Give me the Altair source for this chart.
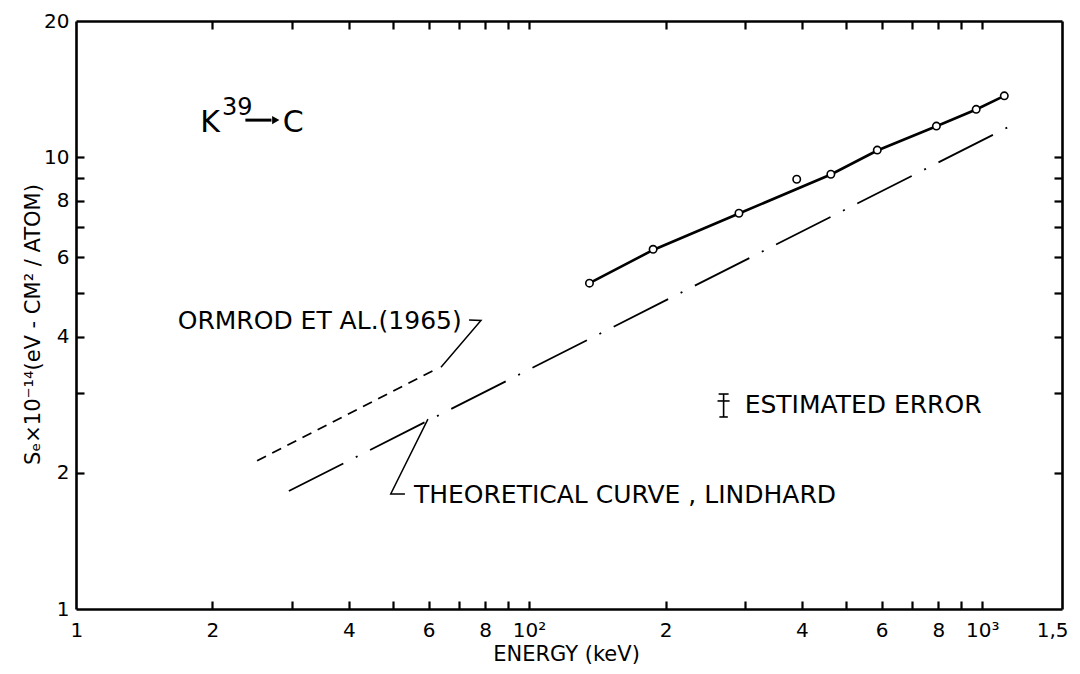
import altair as alt
import pandas as pd

FONT = "DejaVu Sans"

# ---------------- axis ticks / labels ----------------
x_label_values = [10, 20, 40, 60, 80, 100, 200, 400, 600, 800, 1000, 1500]
x_label_texts = ["1", "2", "4", "6", "8", "10²", "2", "4", "6", "8", "10³", "1,5"]
x_minor_ticks = [20, 30, 40, 50, 60, 70, 80, 90, 100,
                 200, 300, 400, 500, 600, 700, 800, 900, 1000]
y_label_values = [1, 2, 4, 6, 8, 10, 20]
y_label_texts = ["1", "2", "4", "6", "8", "10", "20"]
y_minor_ticks = [2, 3, 4, 5, 6, 7, 8, 9, 10]

# ---------------- data ----------------
meas_E = [135.9, 187.8, 290.5, 389.6, 463.4, 586.7, 792.3, 969.8, 1118.8]
meas_S = [5.26, 6.25, 7.51, 8.93, 9.16, 10.36, 11.71, 12.75, 13.66]

fit_E = [135.9, 187.8, 290.5, 463.4, 586.7, 792.3, 969.8, 1118.8]
fit_S = [5.26, 6.23, 7.50, 9.15, 10.34, 11.70, 12.74, 13.66]

theory_E = [29.5, 1165.0]
theory_S = [1.824, 11.77]

ormrod_E = [25.1, 62.8]
ormrod_S = [2.128, 3.408]

ormrod_leader_E = [73.7, 78.3, 63.9]
ormrod_leader_S = [4.36, 4.35, 3.425]
theory_leader_E = [53.2, 49.5, 59.8]
theory_leader_S = [1.797, 1.797, 2.63]

err_E = [268.7]
err_S_lo = [2.66]
err_S_hi = [2.99]
err_cap_E1 = [262.0, 260.5, 263.0]
err_cap_E2 = [275.6, 277.0, 274.5]
err_cap_S = [2.99, 2.886, 2.66]

ann_text = ["ORMROD ET AL.(1965)", "THEORETICAL CURVE , LINDHARD", "ESTIMATED   ERROR"]
ann_E = [71.0, 55.7, 299.0]
ann_S = [4.34, 1.787, 2.827]
ann_align = ["right", "left", "left"]

k_text = ["K", "39", "C"]
k_E = [18.8, 21.0, 28.6]
k_S = [11.36, 12.39, 11.36]
k_size = [30, 24, 30]
arrow_E = [23.65, 27.0]
arrow_S = [12.07]
arrow_head_E = [27.6]

# ---------------- scales ----------------
xs = alt.Scale(type="log", domain=[10, 1500], nice=False)
ys = alt.Scale(type="log", domain=[1, 20], nice=False)

W, H = 986, 588

def expr_from(values, texts):
    parts = [f"datum.value == {v} ? '{t}'" for v, t in zip(values, texts)]
    return " : ".join(parts) + " : ''"

main_x_axis = alt.Axis(
    values=x_label_values, labelExpr=expr_from(x_label_values, x_label_texts),
    ticks=False, domain=False, grid=False, labelFontSize=20, labelPadding=11,
    labelFlush=True, labelFlushOffset=6, labelOverlap=False, labelColor="black",
    labelFont=FONT,
    title="ENERGY (keV)", titleFontSize=21, titleFontWeight="normal", titleFont=FONT,
    titleX=490, titleY=45, titleAlign="center", titleBaseline="middle", titleColor="black",
)
main_y_axis = alt.Axis(
    values=y_label_values, labelExpr=expr_from(y_label_values, y_label_texts),
    ticks=False, domain=False, grid=False, labelFontSize=20, labelPadding=7,
    labelFlush=False, labelOverlap=False, labelColor="black", labelFont=FONT,
    title="Sₑ×10⁻¹⁴(eV - CM² / ATOM)", titleFontSize=21, titleFontWeight="normal",
    titleFont=FONT, titleAngle=270, titleX=-43, titleY=303, titleAlign="center",
    titleBaseline="middle", titleColor="black",
)

def tick_axis(orient, offset, values):
    return alt.Axis(orient=orient, offset=offset, values=values, labels=False,
                    domain=True, domainColor="black", domainWidth=2.6,
                    grid=False, ticks=True, tickSize=8, tickWidth=2.2,
                    tickColor="black", title=None)

def X(axis=None):
    return alt.X("E:Q", scale=xs, axis=axis)

def Y(axis=None, field="S:Q"):
    return alt.Y(field, scale=ys, axis=axis)

pts_df = pd.DataFrame({"E": meas_E, "S": meas_S})
fit_df = pd.DataFrame({"E": fit_E, "S": fit_S})
theory_df = pd.DataFrame({"E": theory_E, "S": theory_S})
ormrod_df = pd.DataFrame({"E": ormrod_E, "S": ormrod_S})

fit_line = alt.Chart(fit_df).mark_line(color="black", strokeWidth=2.6).encode(
    x=X(tick_axis("top", -H, x_minor_ticks)),
    y=Y(tick_axis("right", -W, y_minor_ticks)),
)
theory_line = alt.Chart(theory_df).mark_line(
    color="black", strokeWidth=1.8, strokeDash=[61, 14, 2, 14]).encode(
    x=X(tick_axis("bottom", -H, x_minor_ticks)),
    y=Y(tick_axis("left", -W, y_minor_ticks)),
)
ormrod_line = alt.Chart(ormrod_df).mark_line(
    color="black", strokeWidth=1.8, strokeDash=[10, 7]).encode(x=X(), y=Y())

points = alt.Chart(pts_df).mark_point(
    shape="circle", filled=True, fill="white", stroke="black", strokeWidth=1.6,
    size=55, opacity=1).encode(x=X(main_x_axis), y=Y(main_y_axis))

ol_df = pd.DataFrame({"E": ormrod_leader_E, "S": ormrod_leader_S, "i": [0, 1, 2]})
tl_df = pd.DataFrame({"E": theory_leader_E, "S": theory_leader_S, "i": [0, 1, 2]})
ormrod_leader = alt.Chart(ol_df).mark_line(color="black", strokeWidth=1.5).encode(
    x=X(), y=Y(), order="i:O")
theory_leader = alt.Chart(tl_df).mark_line(color="black", strokeWidth=1.5).encode(
    x=X(), y=Y(), order="i:O")

ann_df = pd.DataFrame({"E": ann_E, "S": ann_S, "t": ann_text, "a": ann_align})
ann_layers = []
for al in ["left", "right"]:
    ann_layers.append(
        alt.Chart(ann_df).transform_filter(alt.datum.a == al).mark_text(
            align=al, baseline="middle", fontSize=25, font=FONT, color="black"
        ).encode(x=X(), y=Y(), text="t:N")
    )

k_layers = []
for t, e, s, fs in zip(k_text, k_E, k_S, k_size):
    kdf = pd.DataFrame({"E": [e], "S": [s], "t": [t]})
    k_layers.append(alt.Chart(kdf).mark_text(
        align="left", baseline="alphabetic", fontSize=fs, font=FONT, color="black"
    ).encode(x=X(), y=Y(), text="t:N"))

arrow_df = pd.DataFrame({"E": [arrow_E[0]], "E2": [arrow_E[1]], "S": arrow_S})
arrow_rule = alt.Chart(arrow_df).mark_rule(color="black", strokeWidth=3).encode(
    x=X(), x2="E2:Q", y=Y())
head_df = pd.DataFrame({"E": arrow_head_E, "S": arrow_S})
arrow_head = alt.Chart(head_df).mark_point(
    shape="triangle-right", filled=True, color="black", size=70, opacity=1
).encode(x=X(), y=Y())

err_df = pd.DataFrame({"E": err_E, "S": err_S_lo, "S2": err_S_hi})
err_rule = alt.Chart(err_df).mark_rule(color="black", strokeWidth=1.6).encode(
    x=X(), y=Y(), y2="S2:Q")
cap_df = pd.DataFrame({"E": err_cap_E1, "E2": err_cap_E2, "S": err_cap_S})
err_caps = alt.Chart(cap_df).mark_rule(color="black", strokeWidth=1.6).encode(
    x=X(), x2="E2:Q", y=Y())

chart = alt.layer(
    fit_line, theory_line, ormrod_line, ormrod_leader, theory_leader,
    points, *ann_layers, *k_layers, arrow_rule, arrow_head, err_rule, err_caps,
).resolve_axis(x="independent", y="independent").properties(
    width=W, height=H,
    autosize=alt.AutoSizeParams(type="none"),
    padding={"left": 68, "top": 13, "right": 10, "bottom": 57},
    background="white",
).configure_view(stroke=None).configure(font=FONT)

chart.save("out.html", embed_options={"renderer": "svg", "actions": False})
